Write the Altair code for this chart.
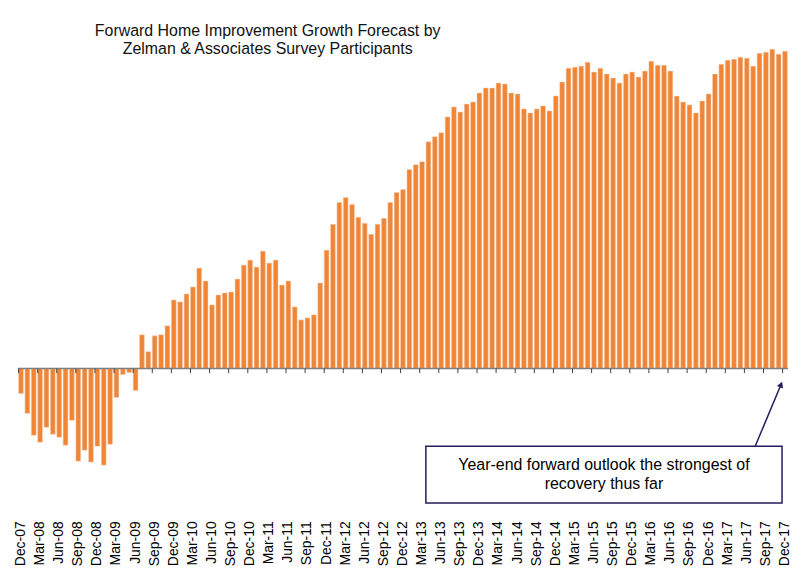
import altair as alt
import pandas as pd

mon = ["Jan", "Feb", "Mar", "Apr", "May", "Jun", "Jul", "Aug", "Sep", "Oct", "Nov", "Dec"]
months = ["Dec-07"] + [f"{m}-{y:02d}" for y in range(8, 18) for m in mon]

values = [
    -2.5, -4.5, -6.7, -7.4, -5.9, -6.6, -6.9, -7.7, -5.2, -9.3,
    -8.2, -9.4, -7.8, -9.7, -7.6, -2.9, -0.6, -0.4, -2.2, 3.4,
    1.7, 3.3, 3.4, 4.3, 6.9, 6.7, 7.5, 8.2, 10.1, 8.8,
    6.4, 7.4, 7.6, 7.7, 9.0, 10.4, 10.9, 10.2, 11.8, 10.6,
    10.9, 8.4, 8.8, 6.2, 4.9, 5.1, 5.4, 8.6, 11.9, 14.5,
    16.7, 17.2, 16.5, 15.2, 14.6, 13.5, 14.5, 15.1, 16.7, 17.7,
    18.0, 20.0, 20.5, 20.8, 22.8, 23.3, 23.7, 25.3, 26.3, 25.8,
    26.6, 26.8, 27.7, 28.2, 28.2, 28.7, 28.6, 27.7, 27.6, 26.1,
    25.7, 26.1, 26.4, 25.9, 27.4, 28.8, 30.2, 30.3, 30.4, 30.8,
    29.8, 30.2, 29.6, 29.2, 28.7, 29.6, 29.8, 29.3, 29.9, 30.9,
    30.5, 30.5, 29.9, 27.4, 26.8, 26.5, 25.7, 26.9, 27.6, 29.6,
    30.6, 31.0, 31.1, 31.3, 31.2, 30.4, 31.7, 31.8, 32.1, 31.6,
    31.9,
]

tick_months = months[::3]
title_lines = ["Forward Home Improvement Growth Forecast by",
               "Zelman & Associates Survey Participants"]
note_lines = ["Year-end forward outlook the strongest of",
              "recovery thus far"]

df = pd.DataFrame({"month": months, "value": values})
tick_df = pd.DataFrame({"month": tick_months})
one = pd.DataFrame({"k": [0]})

W, H = 774, 502
FONT = "Liberation Sans"
NAVY = "#2a1a5e"

xscale = alt.Scale(domain=months, paddingInner=0.25, paddingOuter=0.1)
yscale = alt.Scale(domain=[-14.6, 35.6], nice=False)

bars = alt.Chart(df).mark_bar(color="#ef8537", stroke="#f9cfae", strokeWidth=0.5).encode(
    x=alt.X("month:N", scale=xscale,
            axis=alt.Axis(values=tick_months, labelAngle=270, labelAlign="right",
                          labelBaseline="middle", ticks=False, tickSize=0, domain=False,
                          labelPadding=7, labelFont=FONT, labelFontSize=14,
                          labelColor="#000000", title=None, labelOverlap=False)),
    y=alt.Y("value:Q", scale=yscale, axis=None),
)

zero = alt.Chart(one).mark_rule(color="#7f7f7f", strokeWidth=1.5).encode(y=alt.datum(0))

ticks = alt.Chart(tick_df).mark_rule(color="#404040", strokeWidth=1).encode(
    x=alt.X("month:N", scale=xscale, bandPosition=0),
    y=alt.datum(0),
    y2=alt.datum(-0.45),
)

title1 = alt.Chart(one).mark_text(text=title_lines[0], font=FONT, fontSize=16,
                                  color="#111111", align="center", baseline="middle").encode(
    x=alt.value(251), y=alt.value(17))
title2 = alt.Chart(one).mark_text(text=title_lines[1], font=FONT, fontSize=16,
                                  color="#111111", align="center", baseline="middle").encode(
    x=alt.value(251), y=alt.value(35))

box = alt.Chart(one).mark_rect(fill="white", stroke=NAVY, strokeWidth=1.5).encode(
    x=alt.value(410), x2=alt.value(768), y=alt.value(434), y2=alt.value(491))
note1 = alt.Chart(one).mark_text(text=note_lines[0], font=FONT, fontSize=16,
                                 color="#000000", align="center", baseline="middle").encode(
    x=alt.value(589), y=alt.value(453))
note2 = alt.Chart(one).mark_text(text=note_lines[1], font=FONT, fontSize=16,
                                 color="#000000", align="center", baseline="middle").encode(
    x=alt.value(589), y=alt.value(472))

arrow = alt.Chart(one).mark_rule(color=NAVY, strokeWidth=1.5).encode(
    x=alt.value(741), y=alt.value(434), x2=alt.value(767), y2=alt.value(372))
head = alt.Chart(one).mark_point(shape="triangle-up", filled=True, color=NAVY, opacity=1,
                                 size=45, angle=22).encode(
    x=alt.value(767), y=alt.value(372))

chart = alt.layer(bars, zero, ticks, title1, title2, arrow, head, box, note1, note2).properties(
    width=W, height=H,
    padding={"left": 5, "top": 5, "right": 0, "bottom": 5},
).configure_view(stroke=None)

chart.save("out.html", embed_options={"renderer": "svg", "actions": False})
